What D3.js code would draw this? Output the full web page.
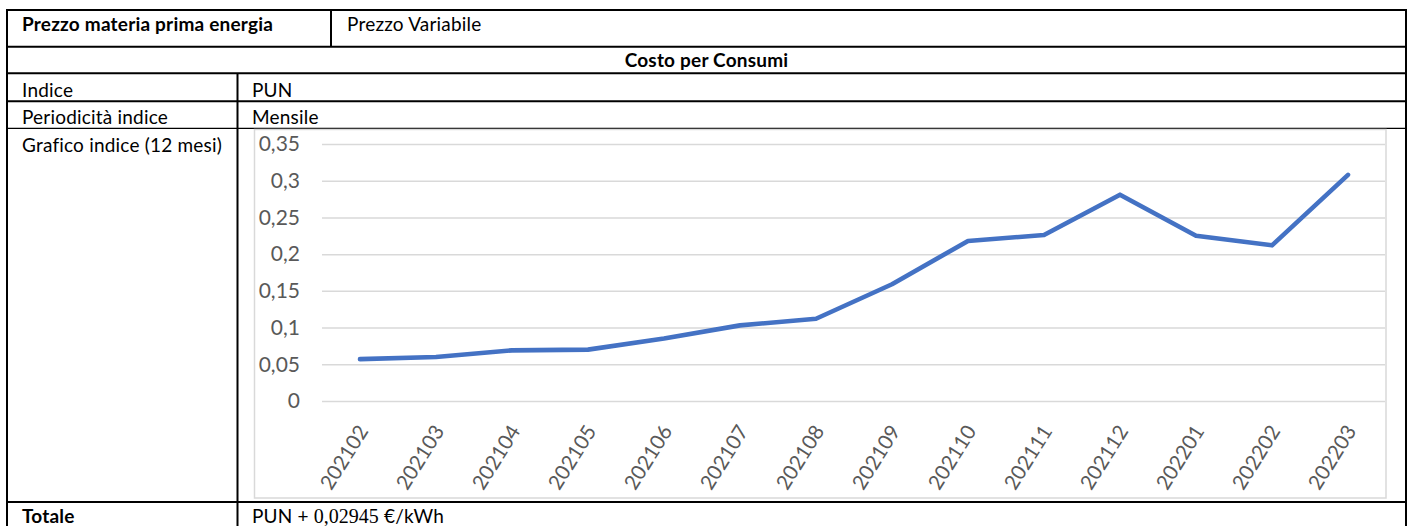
<!DOCTYPE html>
<html>
<head>
<meta charset="utf-8">
<script src="https://cdn.jsdelivr.net/npm/d3@7/dist/d3.min.js"></script>
<style>
  html, body { margin: 0; padding: 0; background: #fff; }
  svg { display: block; }
  text { font-family: Lato, "Noto Sans", sans-serif; }
</style>
</head>
<body>
<svg id="chart" width="1408" height="526"></svg>
<script>
// ---- data ----
const categories = ["202102","202103","202104","202105","202106","202107","202108",
                    "202109","202110","202111","202112","202201","202202","202203"];
const values = [0.057, 0.060, 0.069, 0.070, 0.085, 0.103, 0.112,
                0.159, 0.218, 0.226, 0.281, 0.225, 0.212, 0.308];
const yTicks = [0, 0.05, 0.1, 0.15, 0.2, 0.25, 0.3, 0.35];
const rowLabels = ["Indice", "Periodicità indice", "Grafico indice (12 mesi)"];
const rowValues = ["PUN", "Mensile"];
const headerLabel = "Prezzo materia prima energia";
const headerValue = "Prezzo Variabile";
const sectionTitle = "Costo per Consumi";
const totalLabel = "Totale";
const totalParts = ["PUN + ", "0,02945", " €/kWh"];

// ---- layout ----
const svg = d3.select("#chart");
const T = { left: 7, right: 1406, top: 10, col1: 331, col2: 237.5,
            r1: 46.7, r2: 73.3, r3: 101.3, r4: 128.3, r5: 502, bottom: 540 };

const lines = svg.append("g").attr("stroke", "#000").attr("fill", "none");
function hl(y, x1, x2, w) { lines.append("line").attr("x1", x1).attr("x2", x2).attr("y1", y).attr("y2", y).attr("stroke-width", w); }
function vl(x, y1, y2, w) { lines.append("line").attr("x1", x).attr("x2", x).attr("y1", y1).attr("y2", y2).attr("stroke-width", w); }

// ---- chart (draw before borders) ----
const chartBox = { x: 254.5, y: 129.5, w: 1386 - 254.5, h: 498 - 129.5 };
svg.append("rect").attr("x", chartBox.x).attr("y", chartBox.y)
   .attr("width", chartBox.w).attr("height", chartBox.h)
   .attr("fill", "#fff").attr("stroke", "#d9d9d9").attr("stroke-width", 1.5);

const plot = { left: 322, right: 1386, top: 144, bottom: 401 };
const x = d3.scaleBand().domain(categories).range([plot.left, plot.right]);
const y = d3.scaleLinear().domain([0, 0.35]).range([plot.bottom, plot.top]);
const itFmt = d3.formatLocale({ decimal: ",", thousands: ".", grouping: [3], currency: ["€", ""] }).format(".2~f");

// gridlines
const grid = svg.append("g").attr("transform", `translate(${plot.left},0)`)
  .call(d3.axisLeft(y).tickValues(yTicks).tickSize(-(plot.right - plot.left - 1)).tickFormat(""));
grid.select(".domain").remove();
grid.selectAll(".tick line").attr("stroke", "#d9d9d9").attr("stroke-width", 1.5);

// y labels
const yAxis = svg.append("g").attr("transform", `translate(${300},0)`)
  .call(d3.axisLeft(y).tickValues(yTicks).tickSize(0).tickPadding(0).tickFormat(itFmt));
yAxis.select(".domain").remove();
yAxis.selectAll("text").attr("fill", "#595959").style("font-size", "21px")
  .style("font-family", "Lato, sans-serif");

// x labels
const xAxis = svg.append("g").attr("transform", `translate(0,${plot.bottom})`)
  .call(d3.axisBottom(x).tickSize(0).tickPadding(0));
xAxis.select(".domain").remove();
xAxis.selectAll("text")
  .attr("fill", "#595959").style("font-size", "20.5px").style("font-family", "Lato, sans-serif")
  .attr("text-anchor", "end").attr("dy", "0.35em")
  .attr("transform", "translate(3,26) rotate(-58)")
  .attr("x", 0).attr("y", 0);

// line
const line = d3.line().x((d, i) => x(categories[i]) + x.bandwidth() / 2).y(d => y(d));
svg.append("path").datum(values).attr("d", line)
  .attr("fill", "none").attr("stroke", "#4472C4").attr("stroke-width", 4.6)
  .attr("stroke-linejoin", "round").attr("stroke-linecap", "round");

// ---- table borders ----
hl(T.top, T.left - 1, T.right + 1, 2);
hl(T.r1, T.left, T.right, 2);
hl(T.r2, T.left, T.right, 2);
hl(T.r3, T.left, T.right, 2);
hl(T.r4, T.left, T.right, 1.3);
hl(T.r5, T.left, T.right, 2);
vl(T.left, T.top, T.bottom, 2);
vl(T.right, T.top, T.bottom, 2);
vl(T.col1, T.top, T.r1, 2);
vl(T.col2, T.r2, T.bottom, 2);

// ---- table text ----
const tt = svg.append("g").attr("fill", "#000").style("font-size", "19px").style("letter-spacing", "0.2px");
tt.append("text").attr("x", 22).attr("y", 31).attr("font-weight", "bold").text(headerLabel);
tt.append("text").attr("x", 347).attr("y", 31).text(headerValue);
tt.append("text").attr("x", (T.left + T.right) / 2).attr("y", 67).attr("text-anchor", "middle")
  .attr("font-weight", "bold").text(sectionTitle);
const rowBase = [96.5, 124, 151.5];
rowLabels.forEach((t, i) => tt.append("text").attr("x", 22).attr("y", rowBase[i]).text(t));
rowValues.forEach((t, i) => tt.append("text").attr("x", 252).attr("y", rowBase[i]).text(t));
tt.append("text").attr("x", 22).attr("y", 522.5).attr("font-weight", "bold").text(totalLabel);
const tot = tt.append("text").attr("x", 252).attr("y", 522.5);
tot.append("tspan").text(totalParts[0]);
tot.append("tspan").style("font-family", "'Liberation Serif', serif").style("font-size", "20px").style("letter-spacing", "0px").text(totalParts[1]);
tot.append("tspan").text(totalParts[2]);
</script>
</body>
</html>
